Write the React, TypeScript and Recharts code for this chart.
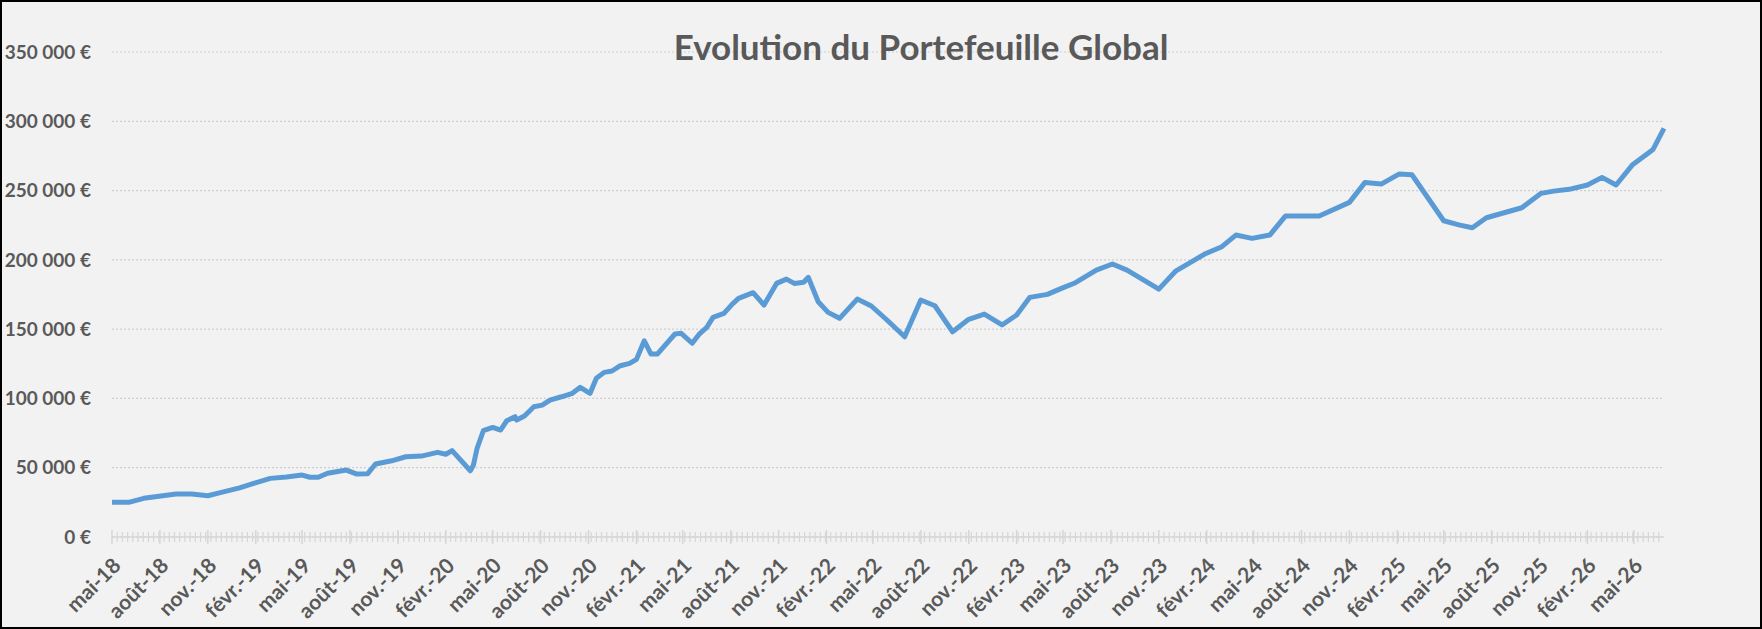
import React from "react";
import { LineChart, Line, XAxis, YAxis, CartesianGrid } from "recharts";

// valorisation du portefeuille à chaque relevé
const dates = [
  "2018-05-01", "2018-06-02", "2018-07-01", "2018-09-01", "2018-10-01", "2018-11-01",
  "2018-11-25", "2019-01-01", "2019-01-28", "2019-03-01", "2019-04-01", "2019-05-01",
  "2019-05-16", "2019-06-01", "2019-06-19", "2019-07-25", "2019-08-13", "2019-09-04",
  "2019-09-19", "2019-10-20", "2019-11-16", "2019-12-16", "2020-01-16", "2020-02-01",
  "2020-02-13", "2020-03-19", "2020-03-25", "2020-04-01", "2020-04-13", "2020-05-01",
  "2020-05-16", "2020-05-28", "2020-06-13", "2020-06-16", "2020-07-01", "2020-07-19",
  "2020-08-04", "2020-08-19", "2020-09-10", "2020-10-01", "2020-10-16", "2020-11-04",
  "2020-11-16", "2020-12-01", "2020-12-16", "2021-01-01", "2021-01-19", "2021-02-01",
  "2021-02-16", "2021-03-01", "2021-03-13", "2021-04-16", "2021-04-28", "2021-05-19",
  "2021-06-01", "2021-06-16", "2021-06-28", "2021-07-19", "2021-08-04", "2021-08-16",
  "2021-09-13", "2021-10-04", "2021-10-28", "2021-11-16", "2021-12-01", "2021-12-19",
  "2021-12-28", "2022-01-16", "2022-02-04", "2022-02-26", "2022-04-01", "2022-04-28",
  "2022-05-28", "2022-07-01", "2022-08-01", "2022-08-28", "2022-10-01", "2022-11-01",
  "2022-12-01", "2023-01-04", "2023-02-01", "2023-02-26", "2023-04-01", "2023-04-28",
  "2023-05-25", "2023-07-04", "2023-08-04", "2023-09-01", "2023-11-01", "2023-12-04",
  "2024-01-01", "2024-01-28", "2024-03-01", "2024-03-28", "2024-04-28", "2024-06-01",
  "2024-07-01", "2024-09-04", "2024-11-01", "2024-12-01", "2025-01-01", "2025-02-04",
  "2025-03-01", "2025-05-01", "2025-06-01", "2025-06-25", "2025-07-22", "2025-09-28",
  "2025-11-04", "2025-11-28", "2025-12-28", "2026-02-01", "2026-03-01", "2026-03-28",
  "2026-04-28", "2026-06-07", "2026-06-28",
];

const values = [
  25000, 25000, 27900, 31000, 31000, 29800,
  32000, 35400, 38700, 42300, 43300, 44700,
  43100, 43100, 46000, 48300, 45500, 45700,
  52700, 55000, 57900, 58400, 61100, 59700,
  62300, 47800, 51900, 64000, 76700, 79100,
  77200, 83900, 86800, 84400, 87300, 94000,
  95200, 98800, 101200, 103700, 108000, 103700,
  114500, 118800, 119800, 123600, 125300, 128200,
  141600, 132000, 132000, 146500, 147000, 139800,
  146200, 151300, 158500, 161400, 168100, 172200,
  176300, 167400, 183000, 186100, 183000, 183800,
  187400, 169800, 162100, 157800, 171700, 166700,
  156600, 144500, 171000, 166900, 148100, 157100,
  160900, 153000, 160200, 172900, 175100, 179400,
  183500, 192600, 197000, 192600, 178900, 192100,
  198200, 204200, 209500, 217900, 215500, 217900,
  231600, 231600, 241500, 255900, 254700, 261900,
  261400, 228200, 225100, 223200, 230400, 237600,
  248000, 249600, 250900, 254000, 259500, 254000,
  268400, 279700, 294900,
];

// un libellé tous les trois mois à partir de mai 2018
const tickLabels = [
  "mai-18", "août-18", "nov.-18", "févr.-19", "mai-19", "août-19", "nov.-19",
  "févr.-20", "mai-20", "août-20", "nov.-20", "févr.-21", "mai-21", "août-21",
  "nov.-21", "févr.-22", "mai-22", "août-22", "nov.-22", "févr.-23", "mai-23",
  "août-23", "nov.-23", "févr.-24", "mai-24", "août-24", "nov.-24", "févr.-25",
  "mai-25", "août-25", "nov.-25", "févr.-26", "mai-26",
];

const yTicks = [0, 50000, 100000, 150000, 200000, 250000, 300000, 350000];

const DAY = 86400000;
const toTime = (d: string) => {
  const [y, m, dd] = d.split("-").map(Number);
  return Date.UTC(y, m - 1, dd);
};

const data = dates.map((d, i) => ({ t: toTime(d), value: values[i] }));
const start = data[0].t;
const end = data[data.length - 1].t;

const majorTicks = tickLabels.map((_, i) => Date.UTC(2018, 4 + 3 * i, 1));
const minorTicks: number[] = [];
for (let t = start + 10 * DAY; t < end; t += 10 * DAY) {
  if (!majorTicks.includes(t)) minorTicks.push(t);
}
const allTicks = [...majorTicks, ...minorTicks].sort((a, b) => a - b);

const TEXT = "#595959";
const FONT = "Lato, 'Open Sans', sans-serif";

const formatEuro = (v: number) =>
  v === 0 ? "0 €" : `${Math.round(v / 1000)} 000 €`;

function DateTick(props: any) {
  const { x, y, payload } = props;
  const idx = majorTicks.indexOf(payload.value);
  if (idx < 0) {
    return <line x1={x} x2={x} y1={y - 5} y2={y + 5} stroke="#d6d6d6" strokeWidth={1.2} />;
  }
  const tx = x + 10;
  const ty = y + 30;
  return (
    <g>
      <line x1={x} x2={x} y1={y - 7} y2={y + 7} stroke="#d6d6d6" strokeWidth={1.5} />
      <text
        x={tx}
        y={ty}
        transform={`rotate(-45, ${tx}, ${ty})`}
        textAnchor="end"
        fill={TEXT}
        fontSize={21}
        fontWeight={700}
        fontFamily={FONT}
      >
        {tickLabels[idx]}
      </text>
    </g>
  );
}

export default function App() {
  return (
    <div
      style={{
        position: "absolute",
        left: 0,
        top: 0,
        width: 1762,
        height: 629,
        background: "#f2f2f2",
      }}
    >
      <LineChart
        width={1762}
        height={629}
        data={data}
        margin={{ top: 52, right: 98, bottom: 12, left: 0 }}
      >
        <CartesianGrid
          vertical={false}
          stroke="#cfcfcf"
          strokeDasharray="2 2"
          strokeWidth={1.2}
        />
        <XAxis
          dataKey="t"
          type="number"
          domain={[start, end]}
          ticks={allTicks}
          interval={0}
          tick={<DateTick />}
          tickLine={false}
          tickSize={0}
          tickMargin={0}
          axisLine={{ stroke: "#d6d6d6", strokeWidth: 1.5 }}
          height={80}
        />
        <YAxis
          type="number"
          domain={[0, 350000]}
          ticks={yTicks}
          width={112}
          axisLine={false}
          tickLine={false}
          tickSize={0}
          tickMargin={21}
          tickFormatter={formatEuro}
          tick={{ fill: TEXT, fontSize: 19, fontWeight: 700, fontFamily: FONT }}
        />
        <Line
          type="linear"
          dataKey="value"
          stroke="#5b9bd5"
          strokeWidth={5}
          strokeLinejoin="round"
          dot={false}
          activeDot={false}
          isAnimationActive={false}
        />
      </LineChart>
      <svg
        width={1762}
        height={629}
        style={{ position: "absolute", left: 0, top: 0, pointerEvents: "none" }}
      >
        <text
          x={921}
          y={60}
          textAnchor="middle"
          fill={TEXT}
          fontSize={35}
          fontWeight={700}
          fontFamily={FONT}
        >
          Evolution du Portefeuille Global
        </text>
      </svg>
      <div
        style={{
          position: "absolute",
          left: 0,
          top: 0,
          width: 1762,
          height: 629,
          boxSizing: "border-box",
          border: "2px solid #000",
          pointerEvents: "none",
        }}
      />
    </div>
  );
}
